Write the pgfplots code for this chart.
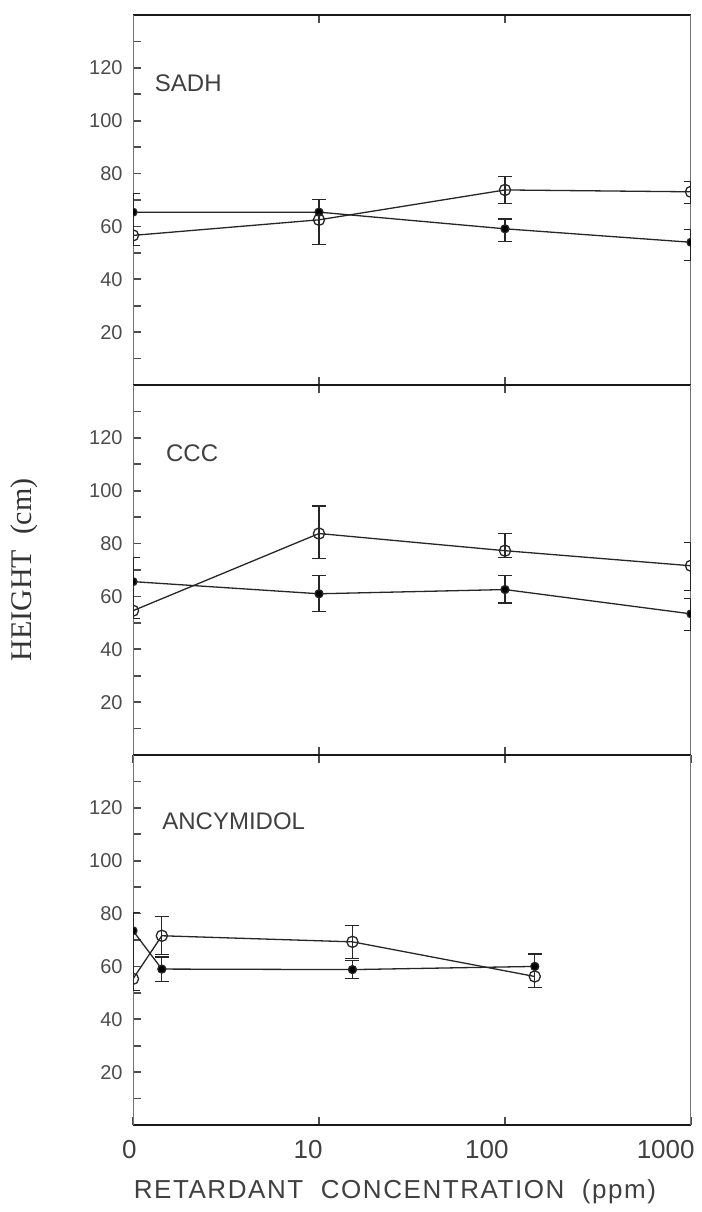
\documentclass[border=0pt]{standalone}
\usepackage{fontspec}
\setmainfont{Liberation Sans}
\newfontfamily\serifh{Liberation Serif}
\newfontfamily\spaced[LetterSpace=6]{Liberation Sans}
\usepackage{pgfplots}
\pgfplotsset{compat=1.18}

\pgfplotsset{
  panel/.style={
    scale only axis, width=279pt, height=185pt,
    xmin=0, xmax=3, ymin=0, ymax=140,
    anchor=south west,
    separate axis lines,
    axis x line*=box, axis y line*=box,
    x axis line style={line width=1.3pt, black!90},
    y axis line style={line width=0.5pt, black!55},
    ytick={20,40,...,120}, minor ytick={10,30,...,130},
    ytick pos=left,
    tick align=inside,
    major tick length=4pt, minor tick length=4pt,
    tick style={line width=0.8pt, black!70},
    yticklabel style={font=\fontsize{10}{10}\selectfont, text=black!70, inner sep=0pt, xshift=-5pt},
    xtick={1,2}, xticklabels={},
    /pgf/number format/assume math mode=true,
    clip marker paths=true,
  },
  filledser/.style={black!85, line width=0.65pt, mark=*, mark size=2pt, mark options={solid, fill=black}},
  openser/.style={black!85, line width=0.65pt, mark=o, mark size=2.8pt, mark options={solid, fill=white}},
  ebars/.style={draw=none, no markers, forget plot,
    error bars/.cd, y dir=both, y explicit,
    error bar style={draw=black!85, line width=0.6pt},
    error mark options={draw=black!85, rotate=90, mark size=3.5pt, line width=0.6pt}},
}
\tikzset{plabel/.style={anchor=west, font=\fontsize{12}{12}\selectfont, text=black!75}}

\begin{document}
\begin{tikzpicture}
\path[use as bounding box] (0,0) rectangle (351pt,606pt);

% ---------- SADH ----------
\begin{axis}[panel, at={(66.5pt,413.5pt)}]
\addplot[ebars] coordinates {
 (0,62.7) +- (0,9.8)
 (1,61.7) +- (0,8.6)
 (2,73.9) +- (0,5.1)
 (2,58.6) +- (0,4.2)
 (3,72.8) +- (0,4.1)
 (3,53.0) +- (0,5.75)
};
\addplot[filledser] coordinates {(0,65.4) (1,65.4) (2,59.1) (3,54.0)};
\addplot[openser] coordinates {(0,56.6) (1,62.5) (2,73.8) (3,73.1)};
\node[plabel] at (axis cs:0.08,114) {SADH};
\end{axis}

% ---------- CCC ----------
\begin{axis}[panel, at={(66.5pt,228.5pt)}]
\addplot[ebars] coordinates {
 (0,63.1) +- (0,11.6)
 (1,84.2) +- (0,10.0)
 (1,61.1) +- (0,6.7)
 (2,79.3) +- (0,4.6)
 (2,62.7) +- (0,5.2)
 (3,71.3) +- (0,9.1)
 (3,53.1) +- (0,6.0)
};
\addplot[filledser] coordinates {(0,65.6) (1,61.0) (2,62.6) (3,53.4)};
\addplot[openser] coordinates {(0,54.6) (1,83.8) (2,77.3) (3,71.6)};
\node[plabel] at (axis cs:0.14,114) {CCC};
\end{axis}

% ---------- ANCYMIDOL ----------
\begin{axis}[panel, at={(66.5pt,43.5pt)},
  xtick={0,1,2,3}, xticklabels={0,10,100,1000},
  xticklabel style={anchor=north east, inner sep=0pt, xshift=2pt, yshift=-7.5pt, font=\fontsize{13}{13}\selectfont, text=black!75}]
\addplot[ebars] coordinates {
 (0,65.6) +- (0,14.7)
 (0.155,71.6) +- (0,7.2)
 (0.155,59.0) +- (0,4.6)
 (1.18,69.3) +- (0,6.3)
 (1.18,58.8) +- (0,3.3)
 (2.16,58.3) +- (0,6.4)
};
\addplot[filledser] coordinates {(0,73.5) (0.155,59.0) (1.18,58.8) (2.16,60.0)};
\addplot[openser] coordinates {(0,55.3) (0.155,71.6) (1.18,69.3) (2.16,56.2)};
\node[plabel] at (axis cs:0.12,115) {ANCYMIDOL};
\end{axis}

% axis titles
\node[font=\fontsize{15}{15}\selectfont\serifh, text=black!80, rotate=90] at (12pt,321pt) {HEIGHT\ \ (cm)};
\node[font=\fontsize{13}{13}\selectfont\spaced, text=black!75] at (197.5pt,10pt) {RETARDANT\ \ CONCENTRATION\ \ (ppm)};
\end{tikzpicture}
\end{document}
